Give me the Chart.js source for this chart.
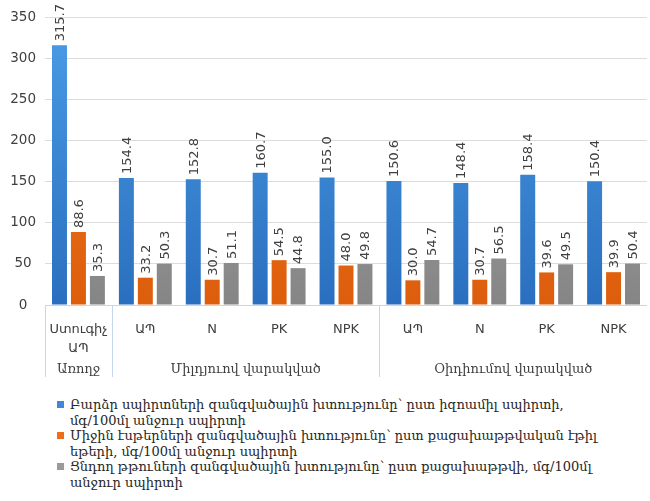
<!DOCTYPE html>
<html>
<head>
<meta charset="utf-8">
<script src="https://cdn.jsdelivr.net/npm/chart.js@4.4.1/dist/chart.umd.min.js"></script>
<style>
  body { margin: 0; background: #fff; }
  #wrap { width: 650px; height: 385px; position: relative; }
  #legend { margin-top: 12px; padding-left: 57px; font: 13px "DejaVu Serif", "DejaVu Sans"; color: #262626; line-height: 15.6px; }
  .item { display: flex; align-items: flex-start; }
  .box { width: 7px; height: 7px; margin: 4px 0 0 0; flex: none; }
  .txt { margin-left: 6px; white-space: nowrap; }
</style>
</head>
<body>
<div id="wrap"><canvas id="chart"></canvas></div>
<div id="legend"></div>
<script>
// categories and groups
const categories = [['Ստուգիչ', 'ԱՊ'], 'ԱՊ', 'N', 'PK', 'NPK', 'ԱՊ', 'N', 'PK', 'NPK'];
const groupNames = ['Առողջ', 'Միլդյուով վարակված', 'Օիդիումով վարակված'];
const groupRanges = [[0, 0], [1, 4], [5, 8]];

// series values
const higherAlcohols = [315.7, 154.4, 152.8, 160.7, 155.0, 150.6, 148.4, 158.4, 150.4];
const esters = [88.6, 33.2, 30.7, 54.5, 48.0, 30.0, 30.7, 39.6, 39.9];
const volatileAcids = [35.3, 50.3, 51.1, 44.8, 49.8, 54.7, 56.5, 49.5, 50.4];

const seriesNames = [
  ['Բարձր սպիրտների զանգվածային խտությունը՝ ըստ իզոամիլ սպիրտի,', 'մգ/100մլ  անջուր սպիրտի'],
  ['Միջին էսթերների զանգվածային խտությունը՝ ըստ քացախաթթվական  էթիլ', 'եթերի, մգ/100մլ  անջուր սպիրտի'],
  ['Ցնդող թթուների զանգվածային խտությունը՝ ըստ քացախաթթվի,  մգ/100մլ', 'անջուր սպիրտի']
];

const yMax = 350;
const yStep = 50;

const colors = [
  ['#4a9ce6', '#2a6fbf'],
  ['#f77e22', '#dc5d0c'],
  ['#adadad', '#858585']
];
const legendColors = ['#3f88d8', '#ef6c1a', '#9a9a9a'];

function gradient(chart, pair) {
  const area = chart.chartArea;
  if (!area) return pair[0];
  const g = chart.ctx.createLinearGradient(0, area.top, 0, area.bottom);
  g.addColorStop(0, pair[0]);
  g.addColorStop(1, pair[1]);
  return g;
}

const barLabels = {
  id: 'barLabels',
  afterDatasetsDraw(chart) {
    const ctx = chart.ctx;
    ctx.save();
    ctx.font = '13px "DejaVu Sans"';
    ctx.fillStyle = '#404040';
    ctx.textAlign = 'left';
    ctx.textBaseline = 'middle';
    chart.data.datasets.forEach((ds, i) => {
      chart.getDatasetMeta(i).data.forEach((bar, j) => {
        ctx.save();
        ctx.translate(bar.x + 1, bar.y - 4);
        ctx.rotate(-Math.PI / 2);
        ctx.fillText(ds.data[j].toFixed(1), 0, 0);
        ctx.restore();
      });
    });
    ctx.restore();
  }
};

// axis line, group separators and group names under the x axis
const groupAxis = {
  id: 'groupAxis',
  afterDraw(chart) {
    const ctx = chart.ctx;
    const xs = chart.scales.x;
    const top = chart.chartArea.bottom;
    ctx.save();
    ctx.strokeStyle = '#c5d7ee';
    ctx.lineWidth = 1;
    ctx.beginPath();
    ctx.moveTo(chart.chartArea.left, top + 0.5);
    ctx.lineTo(chart.chartArea.right, top + 0.5);
    groupRanges.forEach(r => {
      const x = Math.round(xs.getPixelForValue(r[0] - 0.5)) + 0.5;
      ctx.moveTo(x, top);
      ctx.lineTo(x, top + 72);
    });
    ctx.stroke();
    ctx.font = '13px "DejaVu Serif", "DejaVu Sans"';
    ctx.fillStyle = '#404040';
    ctx.textAlign = 'center';
    ctx.textBaseline = 'middle';
    groupRanges.forEach((r, i) => {
      ctx.fillText(groupNames[i], xs.getPixelForValue((r[0] + r[1]) / 2), top + 65);
    });
    ctx.restore();
  }
};

new Chart(document.getElementById('chart'), {
  type: 'bar',
  data: {
    labels: categories,
    datasets: [higherAlcohols, esters, volatileAcids].map((d, i) => ({
      label: seriesNames[i].join(' '),
      data: d,
      backgroundColor: ctx => gradient(ctx.chart, colors[i]),
      categoryPercentage: 0.85,
      barPercentage: 0.79
    }))
  },
  options: {
    responsive: true,
    maintainAspectRatio: false,
    animation: false,
    layout: { padding: { top: 15, right: 3, left: 0, bottom: 0 } },
    plugins: { legend: { display: false }, tooltip: { enabled: false } },
    scales: {
      x: {
        grid: { display: false },
        border: { display: false },
        ticks: { color: '#404040', padding: 8, maxRotation: 0, autoSkip: false,
                 font: { family: '"DejaVu Sans"', size: 13, lineHeight: 1.4 } },
        afterFit: s => { s.height = 80; }
      },
      y: {
        min: 0,
        max: yMax,
        grid: { color: '#dcdcdc', drawTicks: false },
        border: { display: false },
        ticks: { stepSize: yStep, color: '#404040', padding: 9, crossAlign: 'center',
                 font: { family: '"DejaVu Sans"', size: 13.5 } },
        afterFit: s => { s.width = 45; }
      }
    }
  },
  plugins: [barLabels, groupAxis]
});

const legend = document.getElementById('legend');
seriesNames.forEach((lines, i) => {
  const item = document.createElement('div');
  item.className = 'item';
  item.innerHTML = '<span class="box" style="background:' + legendColors[i] + '"></span><span class="txt">' + lines.join('<br>') + '</span>';
  legend.appendChild(item);
});
</script>
</body>
</html>
